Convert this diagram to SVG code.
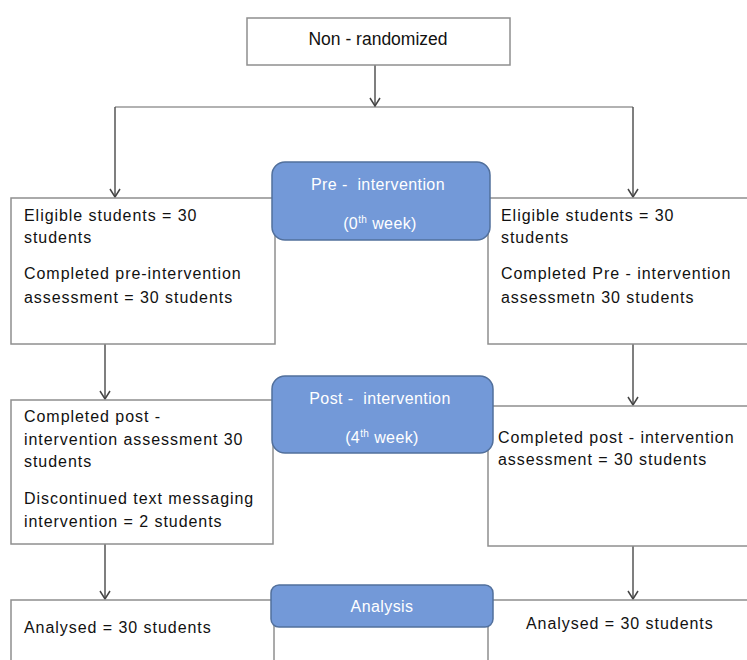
<svg xmlns="http://www.w3.org/2000/svg" width="747" height="660" viewBox="0 0 747 660">
<style>
.box{fill:#fff;stroke:#8f8f8f;stroke-width:1.5}
.pill{fill:#7399d8;stroke:#52709c;stroke-width:1.5}
.t{font-family:"Liberation Sans",Arial,sans-serif;font-size:16px;fill:#111;letter-spacing:0.95px}
.pt{font-family:"Liberation Sans",Arial,sans-serif;font-size:16px;fill:#fff;text-anchor:middle;letter-spacing:0.4px}
.c{stroke:#555;stroke-width:1.5;fill:none}
.h{stroke:#999;stroke-width:1.5;fill:none}
</style>
<defs>
<marker id="ah" viewBox="0 0 10 12" refX="9" refY="6" markerWidth="10" markerHeight="12" markerUnits="userSpaceOnUse" orient="auto">
<path d="M1,1 L9,6 L1,11" fill="none" stroke="#444" stroke-width="1.5"/>
</marker>
</defs>
<g id="connectors">
<line class="h" x1="115" y1="107" x2="633" y2="107"/>
<line class="c" x1="375" y1="65" x2="375" y2="106" marker-end="url(#ah)"/>
<line class="c" x1="115" y1="107" x2="115" y2="197" marker-end="url(#ah)"/>
<line class="c" x1="633" y1="107" x2="633" y2="197" marker-end="url(#ah)"/>
<line class="c" x1="105" y1="344" x2="105" y2="399" marker-end="url(#ah)"/>
<line class="c" x1="633" y1="344" x2="633" y2="405" marker-end="url(#ah)"/>
<line class="c" x1="105" y1="544" x2="105" y2="599" marker-end="url(#ah)"/>
<line class="c" x1="633" y1="546" x2="633" y2="599" marker-end="url(#ah)"/>
</g>
<g id="top">
<rect class="box" x="247" y="18" width="263" height="47"/>
<text x="378" y="45" font-family="Liberation Sans, Arial, sans-serif" font-size="17.5" text-anchor="middle" fill="#111">Non - randomized</text>
</g>
<g id="left1">
<rect class="box" x="11" y="198" width="264" height="146"/>
<text class="t" x="24" y="221">Eligible students = 30</text>
<text class="t" x="24" y="243">students</text>
<text class="t" x="24" y="279">Completed pre-intervention</text>
<text class="t" x="24" y="303">assessment = 30 students</text>
</g>
<g id="right1">
<rect class="box" x="488" y="198" width="262" height="146"/>
<text class="t" x="501" y="221">Eligible students = 30</text>
<text class="t" x="501" y="243">students</text>
<text class="t" x="501" y="279">Completed Pre - intervention</text>
<text class="t" x="501" y="303">assessmetn 30 students</text>
</g>
<g id="left2">
<rect class="box" x="11" y="400" width="262" height="144"/>
<text class="t" x="24" y="422">Completed post -</text>
<text class="t" x="24" y="445">intervention assessment 30</text>
<text class="t" x="24" y="467">students</text>
<text class="t" x="24" y="504">Discontinued text messaging</text>
<text class="t" x="24" y="527">intervention = 2 students</text>
</g>
<g id="right2">
<rect class="box" x="488" y="406" width="262" height="140"/>
<text class="t" x="498" y="443">Completed post - intervention</text>
<text class="t" x="498" y="465">assessment = 30 students</text>
</g>
<g id="left3">
<rect class="box" x="11" y="600" width="263" height="70"/>
<text class="t" x="24" y="633">Analysed = 30 students</text>
</g>
<g id="right3">
<rect class="box" x="488" y="600" width="262" height="70"/>
<text class="t" x="526" y="629">Analysed = 30 students</text>
</g>
<g id="pre">
<rect class="pill" x="272" y="162" width="218" height="78" rx="13"/>
<text class="pt" x="378" y="190" xml:space="preserve">Pre -  intervention</text>
<text class="pt" x="380" y="229">(0<tspan font-size="10" dy="-6">th</tspan><tspan dy="6"> week)</tspan></text>
</g>
<g id="post">
<rect class="pill" x="272" y="376" width="221" height="77" rx="13"/>
<text class="pt" x="380" y="404" xml:space="preserve">Post -  intervention</text>
<text class="pt" x="382" y="443">(4<tspan font-size="10" dy="-6">th</tspan><tspan dy="6"> week)</tspan></text>
</g>
<g id="analysis">
<rect class="pill" x="271" y="585" width="222" height="42" rx="8"/>
<text class="pt" x="382" y="612">Analysis</text>
</g>
</svg>
